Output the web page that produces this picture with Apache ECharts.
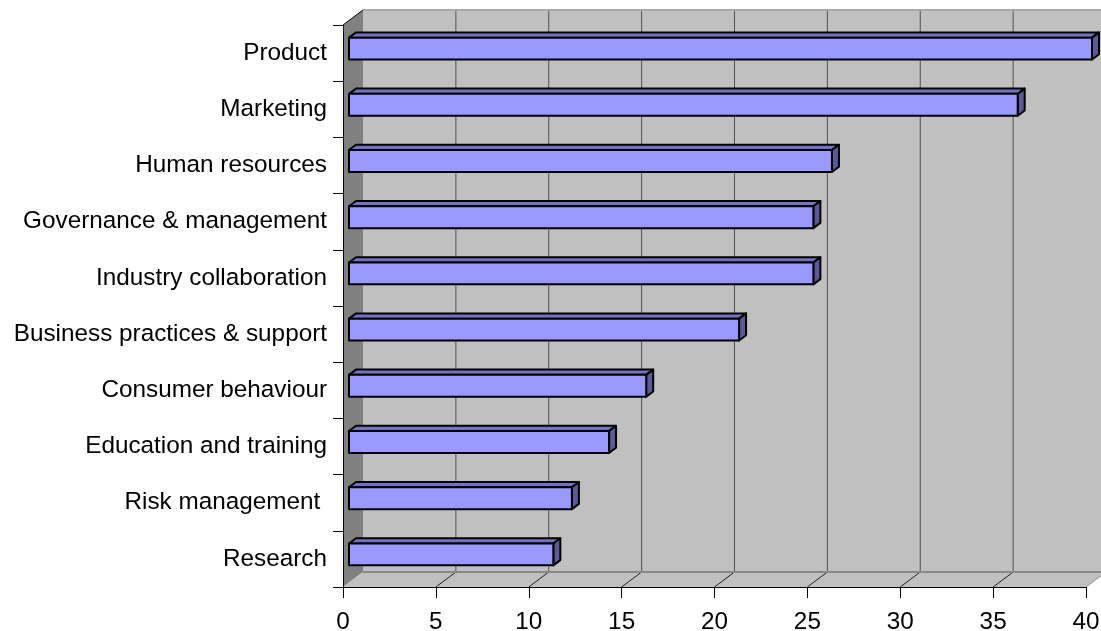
<!DOCTYPE html>
<html>
<head>
<meta charset="utf-8">
<script src="https://cdn.jsdelivr.net/npm/echarts@6/dist/echarts.min.js"></script>
<style>
html,body{margin:0;padding:0;background:#fff;}
#chart{width:1101px;height:631px;}
</style>
</head>
<body>
<div id="chart"></div>
<script>
// ---- data ----
const categories = ['Product', 'Marketing', 'Human resources', 'Governance & management', 'Industry collaboration', 'Business practices & support', 'Consumer behaviour', 'Education and training', 'Risk management ', 'Research'];
const values = [40, 36, 26, 25, 25, 21, 16, 14, 12, 11];
const xMin = 0;
const xMax = 40;
const xStep = 5;

// ---- style ----
const DEPTH = { dx: 20, dy: -15 };
const FONT = "'Liberation Sans', Arial, sans-serif";
const FS = 24.3;

const chart = echarts.init(document.getElementById('chart'), null, { renderer: 'canvas' });

function frameItem(params, api) {
  const cs = params.coordSys;
  const x0 = cs.x, y0 = cs.y, x1 = cs.x + cs.width, y1 = cs.y + cs.height;
  const dx = DEPTH.dx, dy = DEPTH.dy;
  const children = [];
  children.push({ type: 'rect', shape: { x: x0 + dx, y: y0 + dy, width: cs.width, height: cs.height }, style: { fill: '#C0C0C0' } });
  children.push({ type: 'polygon', shape: { points: [[x0, y0], [x0 + dx, y0 + dy], [x0 + dx, y1 + dy], [x0, y1]] }, style: { fill: '#808080' } });
  children.push({ type: 'polygon', shape: { points: [[x0, y1], [x0 + dx, y1 + dy], [x1 + dx, y1 + dy], [x1, y1]] }, style: { fill: '#C0C0C0' } });
  for (let v = xMin + xStep; v <= xMax; v += xStep) {
    const x = api.coord([v, 0])[0];
    children.push({ type: 'line', shape: { x1: x + dx, y1: y0 + dy, x2: x + dx, y2: y1 + dy }, style: { stroke: '#505050', lineWidth: 1 } });
    children.push({ type: 'line', shape: { x1: x, y1: y1, x2: x + dx, y2: y1 + dy }, style: { stroke: v === xMax ? '#909090' : '#202020', lineWidth: 1 } });
  }
  children.push({ type: 'line', shape: { x1: x0 + dx, y1: y1 + dy, x2: x1 + dx, y2: y1 + dy }, style: { stroke: '#888888', lineWidth: 2 } });
  children.push({ type: 'line', shape: { x1: x0 + dx, y1: y0 + dy, x2: x1 + dx, y2: y0 + dy }, style: { stroke: '#A8A8A8', lineWidth: 2 } });
  children.push({ type: 'line', shape: { x1: x0, y1: y0, x2: x0 + dx, y2: y0 + dy }, style: { stroke: '#000', lineWidth: 1 } });
  return { type: 'group', children: children };
}

function barItem(params, api) {
  const v = api.value(0);
  const idx = api.value(1);
  const p0 = api.coord([xMin, idx]);
  const p1 = api.coord([v, idx]);
  const band = api.size([0, 1])[1];
  const h = band * 0.39;
  const bx = DEPTH.dx * 0.3, by = DEPTH.dy * 0.3;
  const ddx = DEPTH.dx * 0.35, ddy = DEPTH.dy * 0.35;
  const fx = p0[0] + bx, fy = p0[1] + by - h / 2;
  const w = p1[0] - p0[0];
  const st = { stroke: '#000', lineWidth: 2, lineJoin: 'round' };
  return {
    type: 'group',
    children: [
      { type: 'polygon', shape: { points: [[fx, fy], [fx + ddx, fy + ddy], [fx + w + ddx, fy + ddy], [fx + w, fy]] }, style: Object.assign({ fill: '#7373C4' }, st) },
      { type: 'polygon', shape: { points: [[fx + w, fy], [fx + w + ddx, fy + ddy], [fx + w + ddx, fy + h + ddy], [fx + w, fy + h]] }, style: Object.assign({ fill: '#5A5A96' }, st) },
      { type: 'rect', shape: { x: fx, y: fy, width: w, height: h }, style: Object.assign({ fill: '#9999FF' }, st) }
    ]
  };
}

const option = {
  backgroundColor: '#ffffff',
  animation: false,
  grid: { left: 343, right: 15, top: 25, bottom: 44, containLabel: false, outerBoundsMode: 'none' },
  xAxis: {
    type: 'value', min: xMin, max: xMax, interval: xStep, position: 'bottom', z: 10,
    axisLine: { show: true, lineStyle: { color: '#000', width: 1 } },
    axisTick: { show: true, length: 11, lineStyle: { color: '#000', width: 1 } },
    splitLine: { show: false },
    axisLabel: { color: '#000', fontFamily: FONT, fontSize: FS, margin: 23 }
  },
  yAxis: {
    type: 'category', data: categories, inverse: true, z: 10,
    axisLine: { show: true, lineStyle: { color: '#000', width: 1 } },
    axisTick: { show: true, length: 10, alignWithLabel: false, lineStyle: { color: '#000', width: 1 } },
    splitLine: { show: false },
    axisLabel: { color: '#000', fontFamily: FONT, fontSize: FS, margin: 16 }
  },
  series: [
    { type: 'custom', name: 'frame', clip: false, z: 1, silent: true, data: [[xMin, 0]], encode: { x: 0, y: 1 }, renderItem: frameItem },
    { type: 'custom', name: 'bars', clip: false, z: 3, data: values.map((v, i) => [v, i]), encode: { x: 0, y: 1 }, renderItem: barItem }
  ]
};
chart.setOption(option);
</script>
</body>
</html>
